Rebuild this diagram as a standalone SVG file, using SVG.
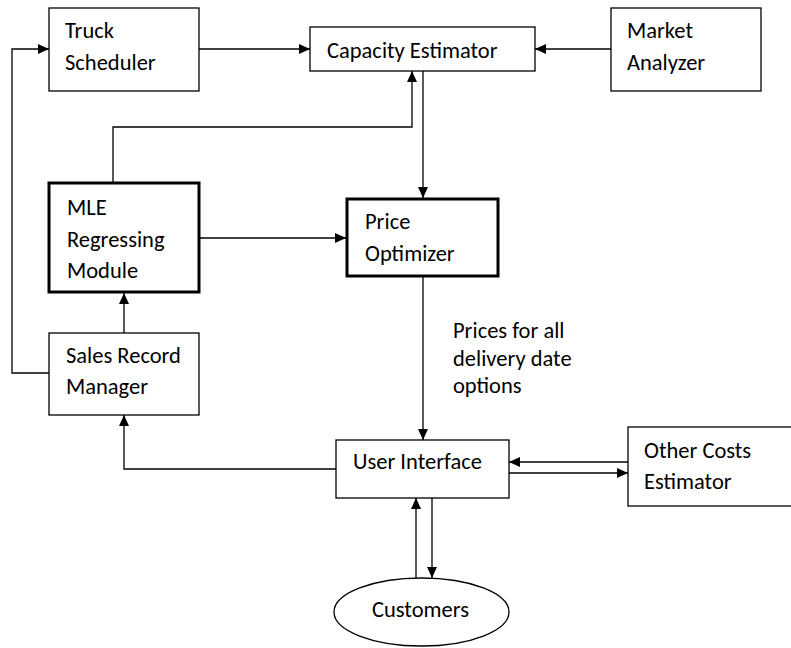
<svg xmlns="http://www.w3.org/2000/svg" width="791" height="648" viewBox="0 0 791 648">
<style>
  .box{fill:#fff;stroke:#000;stroke-width:1.3}
  .thick{fill:#fff;stroke:#000;stroke-width:3}
  .t{font-family:Carlito,Lato,"Liberation Sans",sans-serif;font-size:22.5px;fill:#000}
  .c{fill:none;stroke:#000;stroke-width:1.3}
</style>
<defs>
  <marker id="a" viewBox="0 0 11 10" refX="11" refY="5" markerWidth="11" markerHeight="10" markerUnits="userSpaceOnUse" orient="auto">
    <path d="M0,0 L11,5 L0,10 z" fill="#000"/>
  </marker>
</defs>
<rect width="791" height="648" fill="#fff"/>
<g id="connectors">
  <path class="c" d="M199,49 H310" marker-end="url(#a)"/>
  <path class="c" d="M611,49 H535" marker-end="url(#a)"/>
  <path class="c" d="M113,183 V127 H412 V71" marker-end="url(#a)"/>
  <path class="c" d="M423,71 V198" marker-end="url(#a)"/>
  <path class="c" d="M199,238 H346" marker-end="url(#a)"/>
  <path class="c" d="M124,333 V293" marker-end="url(#a)"/>
  <path class="c" d="M49,373 H12 V49 H49" marker-end="url(#a)"/>
  <path class="c" d="M423,277 V440" marker-end="url(#a)"/>
  <path class="c" d="M628,462 H509" marker-end="url(#a)"/>
  <path class="c" d="M509,473 H628" marker-end="url(#a)"/>
  <path class="c" d="M336,469 H124 V415" marker-end="url(#a)"/>
  <path class="c" d="M416,578 V498" marker-end="url(#a)"/>
  <path class="c" d="M432,498 V578" marker-end="url(#a)"/>
  <text class="t" x="453" y="338">Prices for all</text>
  <text class="t" x="453" y="366">delivery date</text>
  <text class="t" x="453" y="393">options</text>
</g>
<g id="truck-scheduler">
  <rect class="box" x="49" y="8" width="150" height="83"/>
  <text class="t" x="65" y="38">Truck</text>
  <text class="t" x="65" y="70">Scheduler</text>
</g>
<g id="capacity-estimator">
  <rect class="box" x="310" y="27" width="225" height="44"/>
  <text class="t" x="327" y="58">Capacity Estimator</text>
</g>
<g id="market-analyzer">
  <rect class="box" x="611" y="8" width="150" height="83"/>
  <text class="t" x="627" y="38">Market</text>
  <text class="t" x="627" y="70">Analyzer</text>
</g>
<g id="mle-regressing-module">
  <rect class="thick" x="49" y="183" width="150" height="109"/>
  <text class="t" x="67" y="215">MLE</text>
  <text class="t" x="67" y="247">Regressing</text>
  <text class="t" x="67" y="278">Module</text>
</g>
<g id="price-optimizer">
  <rect class="thick" x="347" y="199" width="151" height="77"/>
  <text class="t" x="365" y="229">Price</text>
  <text class="t" x="365" y="261">Optimizer</text>
</g>
<g id="sales-record-manager">
  <rect class="box" x="49" y="333" width="150" height="82"/>
  <text class="t" x="66" y="363">Sales Record</text>
  <text class="t" x="66" y="394">Manager</text>
</g>
<g id="user-interface">
  <rect class="box" x="336" y="440" width="173" height="58"/>
  <text class="t" x="353" y="469">User Interface</text>
</g>
<g id="other-costs-estimator">
  <rect class="box" x="628" y="427" width="170" height="79"/>
  <text class="t" x="644" y="458">Other Costs</text>
  <text class="t" x="644" y="489">Estimator</text>
</g>
<g id="customers">
  <ellipse class="box" cx="421.5" cy="612" rx="87.5" ry="34"/>
  <text class="t" x="372" y="617">Customers</text>
</g>
</svg>
